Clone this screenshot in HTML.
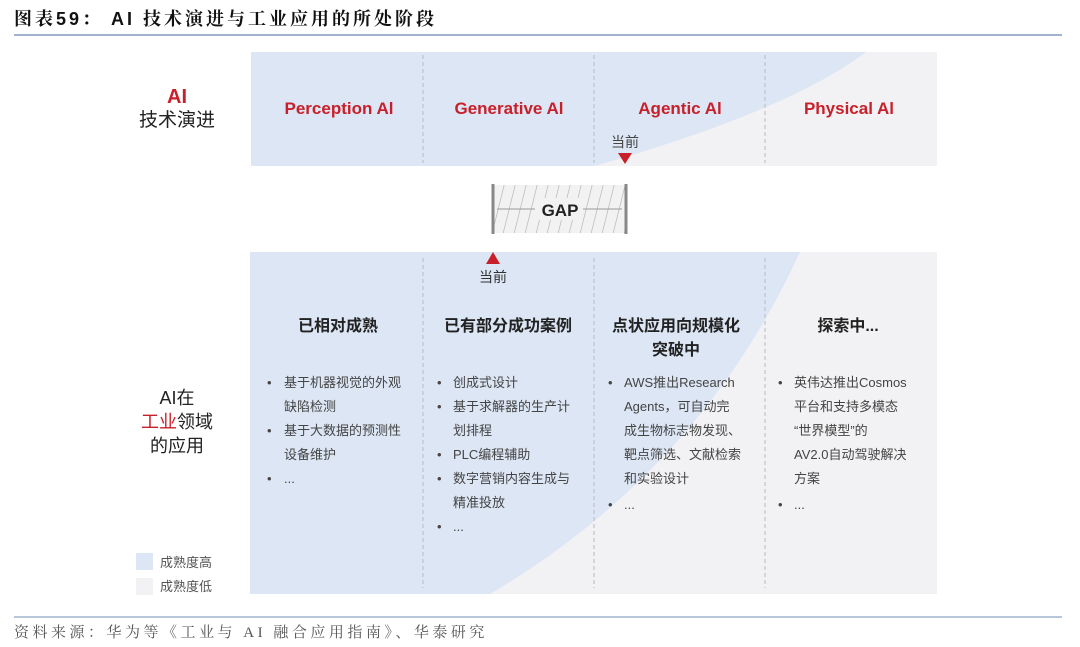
<!DOCTYPE html>
<html><head><meta charset="utf-8"><style>
body{margin:0;width:1080px;height:647px;background:#fff;overflow:hidden;font-family:"Liberation Sans","Noto Sans CJK SC",sans-serif;}
svg{position:absolute;left:0;top:0}
</style></head><body>
<svg width="1080" height="647" viewBox="0 0 1080 647" font-family="Liberation Sans, Noto Sans CJK SC, sans-serif">
<defs>
<pattern id="h" width="11" height="48" patternUnits="userSpaceOnUse" patternTransform="skewX(-14)">
<line x1="0" y1="0" x2="0" y2="48" stroke="#aaa" stroke-width="1.2"/>
</pattern>
</defs>
<text x="14" y="25" font-size="18" font-weight="bold" fill="#111" letter-spacing="3" font-family="Liberation Sans, Noto Serif CJK SC, serif">图表59：  AI 技术演进与工业应用的所处阶段</text>
<line x1="14" y1="35" x2="1062" y2="35" stroke="#9fb3cc" stroke-width="2"/>

<rect x="251" y="52" width="686" height="114" fill="#f2f2f4"/>
<path d="M251 52 L866 52 Q790 110 595 166 L251 166 Z" fill="#dce6f4"/>
<g stroke="#bbb" stroke-dasharray="4 3" stroke-width="1">
<line x1="423" y1="55" x2="423" y2="163"/><line x1="594" y1="55" x2="594" y2="163"/><line x1="765" y1="55" x2="765" y2="163"/>
</g>
<g font-size="17" font-weight="bold" fill="#c8202a" text-anchor="middle">
<text x="339" y="114">Perception Al</text><text x="509" y="114">Generative Al</text>
<text x="680" y="114">Agentic Al</text><text x="849" y="114">Physical Al</text>
</g>
<text x="625" y="147" font-size="14" fill="#444" text-anchor="middle">当前</text>
<polygon points="618,153 632,153 625,164" fill="#c8202a"/>
<text x="177" y="103" font-size="20" font-weight="bold" fill="#c8202a" text-anchor="middle">AI</text>
<text x="177" y="126" font-size="19" fill="#222" text-anchor="middle">技术演进</text>

<rect x="493" y="185" width="134" height="48" fill="#f2f2f2"/>
<rect x="493" y="185" width="134" height="48" fill="url(#h)"/>
<line x1="493" y1="184" x2="493" y2="234" stroke="#888" stroke-width="3"/>
<line x1="626" y1="184" x2="626" y2="234" stroke="#888" stroke-width="3"/>
<line x1="497" y1="209" x2="622" y2="209" stroke="#999"/>
<rect x="535" y="198" width="48" height="22" fill="#f2f2f2"/>
<text x="560" y="216" font-size="17" font-weight="bold" fill="#222" text-anchor="middle">GAP</text>

<rect x="250" y="252" width="687" height="342" fill="#f2f2f4"/>
<path d="M250 252 L800 252 Q700 470 490 594 L250 594 Z" fill="#dce6f4"/>
<g stroke="#bbb" stroke-dasharray="4 3" stroke-width="1">
<line x1="423" y1="258" x2="423" y2="588"/><line x1="594" y1="258" x2="594" y2="588"/><line x1="765" y1="258" x2="765" y2="588"/>
</g>
<polygon points="493,252 500,264 486,264" fill="#c8202a"/>
<text x="493" y="282" font-size="14" fill="#333" text-anchor="middle">当前</text>

<g font-size="16" font-weight="bold" fill="#222" text-anchor="middle">
<text x="338" y="331">已相对成熟</text><text x="508" y="331">已有部分成功案例</text>
<text x="676" y="331">点状应用向规模化</text><text x="676" y="355">突破中</text>
<text x="848" y="331">探索中...</text>
</g>
<g font-size="13" fill="#444">
<text x="267" y="387">•</text><text x="284" y="387">基于机器视觉的外观</text><text x="284" y="411">缺陷检测</text>
<text x="267" y="435">•</text><text x="284" y="435">基于大数据的预测性</text><text x="284" y="459">设备维护</text>
<text x="267" y="483">•</text><text x="284" y="483">...</text>

<text x="437" y="387">•</text><text x="453" y="387">创成式设计</text>
<text x="437" y="411">•</text><text x="453" y="411">基于求解器的生产计</text><text x="453" y="435">划排程</text>
<text x="437" y="459">•</text><text x="453" y="459">PLC编程辅助</text>
<text x="437" y="483">•</text><text x="453" y="483">数字营销内容生成与</text><text x="453" y="507">精准投放</text>
<text x="437" y="531">•</text><text x="453" y="531">...</text>

<text x="608" y="387">•</text><text x="624" y="387">AWS推出Research</text><text x="624" y="411">Agents，可自动完</text>
<text x="624" y="435">成生物标志物发现、</text><text x="624" y="459">靶点筛选、文献检索</text><text x="624" y="483">和实验设计</text>
<text x="608" y="509">•</text><text x="624" y="509">...</text>

<text x="778" y="387">•</text><text x="794" y="387">英伟达推出Cosmos</text><text x="794" y="411">平台和支持多模态</text>
<text x="794" y="435">“世界模型”的</text><text x="794" y="459">AV2.0自动驾驶解决</text><text x="794" y="483">方案</text>
<text x="778" y="509">•</text><text x="794" y="509">...</text>
</g>

<g font-size="18" fill="#222" text-anchor="middle">
<text x="177" y="404">AI在</text>
<text x="177" y="428"><tspan fill="#c8202a">工业</tspan>领域</text>
<text x="177" y="452">的应用</text>
</g>
<rect x="136" y="553" width="17" height="17" fill="#dce6f4"/>
<rect x="136" y="578" width="17" height="17" fill="#f2f2f4"/>
<text x="160" y="567" font-size="13" fill="#555">成熟度高</text>
<text x="160" y="591" font-size="13" fill="#555">成熟度低</text>

<line x1="14" y1="617" x2="1062" y2="617" stroke="#9fb3cc" stroke-width="1.5"/>
<text x="14" y="637" font-size="15" fill="#555" letter-spacing="3.5" font-family="Liberation Serif, Noto Serif CJK SC, serif">资料来源：华为等《工业与 AI 融合应用指南》、华泰研究</text>
</svg>
</body></html>
